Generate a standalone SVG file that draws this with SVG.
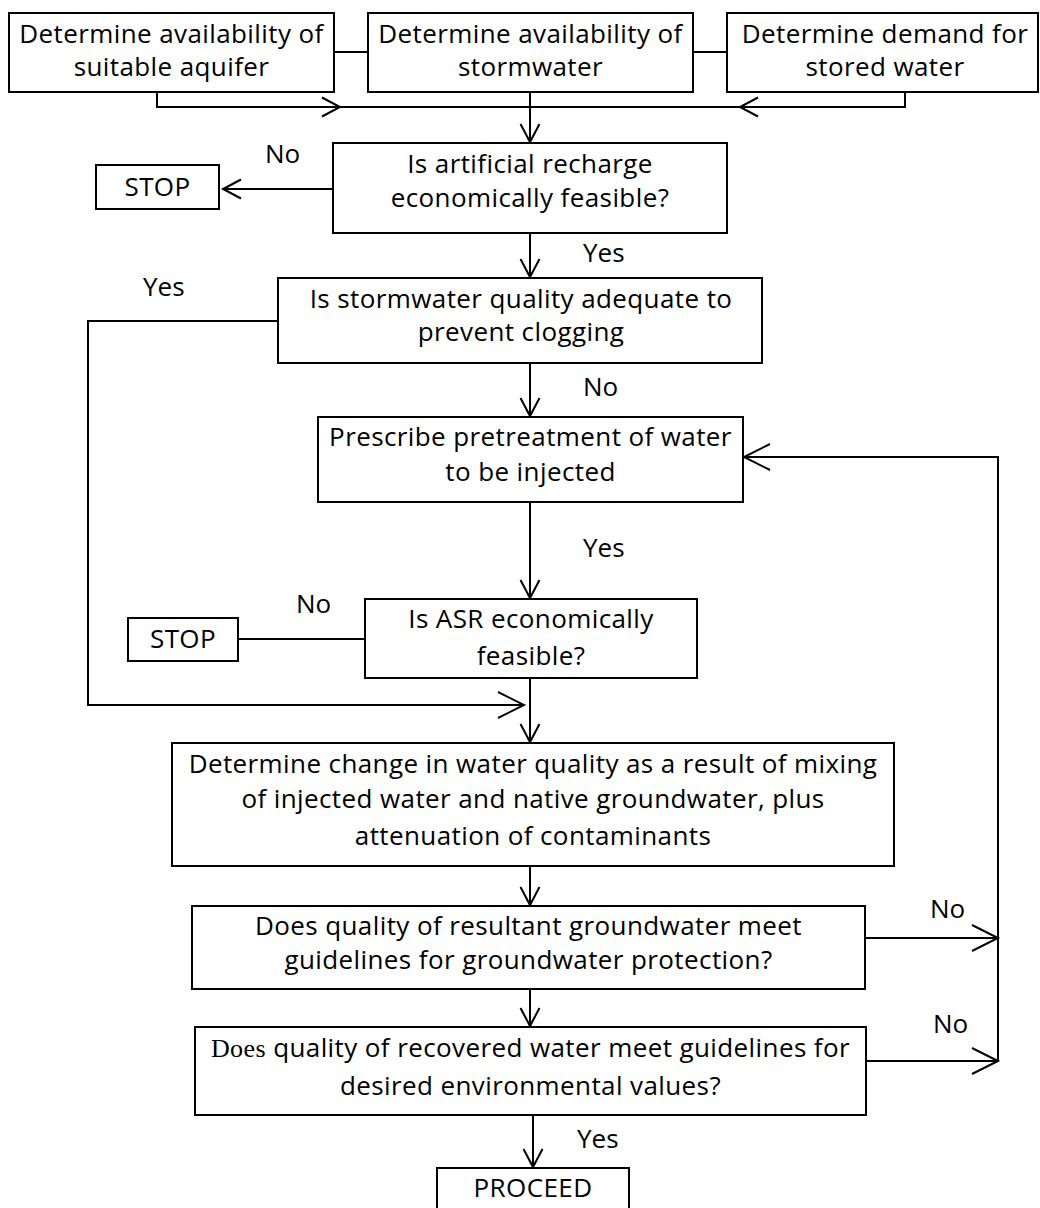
<svg xmlns="http://www.w3.org/2000/svg" width="1040" height="1208" viewBox="0 0 1040 1208">
<style>
.box{fill:#fff;stroke:#000;stroke-width:2}
.t{font-family:"Open Sans","Liberation Sans",sans-serif;font-size:26px;fill:#000;text-anchor:middle;letter-spacing:0.4px}
.l{font-family:"Open Sans","Liberation Sans",sans-serif;font-size:26px;fill:#000}
.c{fill:none;stroke:#000;stroke-width:2}
</style>
<defs>
<marker id="ah" markerUnits="userSpaceOnUse" viewBox="-30 -15 32 30" markerWidth="32" markerHeight="30" refX="0" refY="0" orient="auto" overflow="visible">
<path d="M-18,-9.5 L0,0 L-18,9.5" fill="none" stroke="#000" stroke-width="2"/>
</marker>
<marker id="ahL" markerUnits="userSpaceOnUse" viewBox="-30 -15 32 30" markerWidth="32" markerHeight="30" refX="0" refY="0" orient="auto" overflow="visible">
<path d="M-26,-13 L0,0 L-26,13" fill="none" stroke="#000" stroke-width="2"/>
</marker>
</defs>
<rect width="1040" height="1208" fill="#fff"/>
<g id="connectors">
<path class="c" d="M334,52 H368"/>
<path class="c" d="M693,52 H727"/>
<path class="c" d="M157,92 V107 H905 V92"/>
<path class="c" d="M320,107 H340" marker-end="url(#ah)"/>
<path class="c" d="M760,107 H740" marker-end="url(#ah)"/>
<path class="c" d="M530,92 V142" marker-end="url(#ah)"/>
<path class="c" d="M333,189 H223" marker-end="url(#ah)"/>
<path class="c" d="M530,233 V277" marker-end="url(#ah)"/>
<path class="c" d="M278,321 H88 V705 H524" marker-end="url(#ahL)"/>
<path class="c" d="M530,363 V416" marker-end="url(#ah)"/>
<path class="c" d="M530,502 V598" marker-end="url(#ah)"/>
<path class="c" d="M365,639 H238"/>
<path class="c" d="M530,678 V742" marker-end="url(#ah)"/>
<path class="c" d="M530,866 V905" marker-end="url(#ah)"/>
<path class="c" d="M530,989 V1026" marker-end="url(#ah)"/>
<path class="c" d="M533,1115 V1167" marker-end="url(#ah)"/>
<path class="c" d="M865,938 H998" marker-end="url(#ahL)"/>
<path class="c" d="M866,1061 H998" marker-end="url(#ahL)"/>
<path class="c" d="M998,1061 V457 H744" marker-end="url(#ahL)"/>
</g>
<g id="labels">
<text class="l" x="265" y="163">No</text>
<text class="l" x="583" y="262">Yes</text>
<text class="l" x="143" y="296">Yes</text>
<text class="l" x="583" y="396">No</text>
<text class="l" x="583" y="557">Yes</text>
<text class="l" x="296" y="613">No</text>
<text class="l" x="930" y="918">No</text>
<text class="l" x="933" y="1033">No</text>
<text class="l" x="577" y="1148">Yes</text>
</g>
<g id="n-aquifer">
<rect class="box" x="9" y="13" width="325" height="79"/>
<text class="t" x="171.5" y="43">Determine availability of</text>
<text class="t" x="171.5" y="76">suitable aquifer</text>
</g>
<g id="n-stormwater">
<rect class="box" x="368" y="13" width="325" height="79"/>
<text class="t" x="530.5" y="43">Determine availability of</text>
<text class="t" x="530.5" y="76">stormwater</text>
</g>
<g id="n-demand">
<rect class="box" x="727" y="13" width="311" height="79"/>
<text class="t" x="885" y="43">Determine demand for</text>
<text class="t" x="885" y="76">stored water</text>
</g>
<g id="n-recharge">
<rect class="box" x="333" y="143" width="394" height="90"/>
<text class="t" x="530" y="173">Is artificial recharge</text>
<text class="t" x="530" y="207">economically feasible?</text>
</g>
<g id="n-stop1">
<rect class="box" x="96" y="165" width="123" height="44"/>
<text class="t" x="157.5" y="196">STOP</text>
</g>
<g id="n-quality">
<rect class="box" x="278" y="278" width="484" height="85"/>
<text class="t" x="521" y="308">Is stormwater quality adequate to</text>
<text class="t" x="521" y="341">prevent clogging</text>
</g>
<g id="n-pretreat">
<rect class="box" x="318" y="417" width="425" height="85"/>
<text class="t" x="530.5" y="446">Prescribe pretreatment of water</text>
<text class="t" x="530.5" y="481">to be injected</text>
</g>
<g id="n-stop2">
<rect class="box" x="128" y="618" width="110" height="43"/>
<text class="t" x="183" y="648">STOP</text>
</g>
<g id="n-asr">
<rect class="box" x="365" y="599" width="332" height="79"/>
<text class="t" x="531" y="628">Is ASR economically</text>
<text class="t" x="531" y="665">feasible?</text>
</g>
<g id="n-change">
<rect class="box" x="172" y="743" width="722" height="123"/>
<text class="t" x="533" y="773">Determine change in water quality as a result of mixing</text>
<text class="t" x="533" y="808">of injected water and native groundwater, plus</text>
<text class="t" x="533" y="845">attenuation of contaminants</text>
</g>
<g id="n-resultant">
<rect class="box" x="192" y="906" width="673" height="83"/>
<text class="t" x="528.5" y="935">Does quality of resultant groundwater meet</text>
<text class="t" x="528.5" y="969">guidelines for groundwater protection?</text>
</g>
<g id="n-recovered">
<rect class="box" x="195" y="1027" width="671" height="88"/>
<text class="t" x="530.5" y="1057"><tspan font-family="'Liberation Serif',serif">Does</tspan> quality of recovered water meet guidelines for</text>
<text class="t" x="530.5" y="1095">desired environmental values?</text>
</g>
<g id="n-proceed">
<rect class="box" x="437" y="1168" width="192" height="60"/>
<text class="t" x="533" y="1197">PROCEED</text>
</g>
</svg>
